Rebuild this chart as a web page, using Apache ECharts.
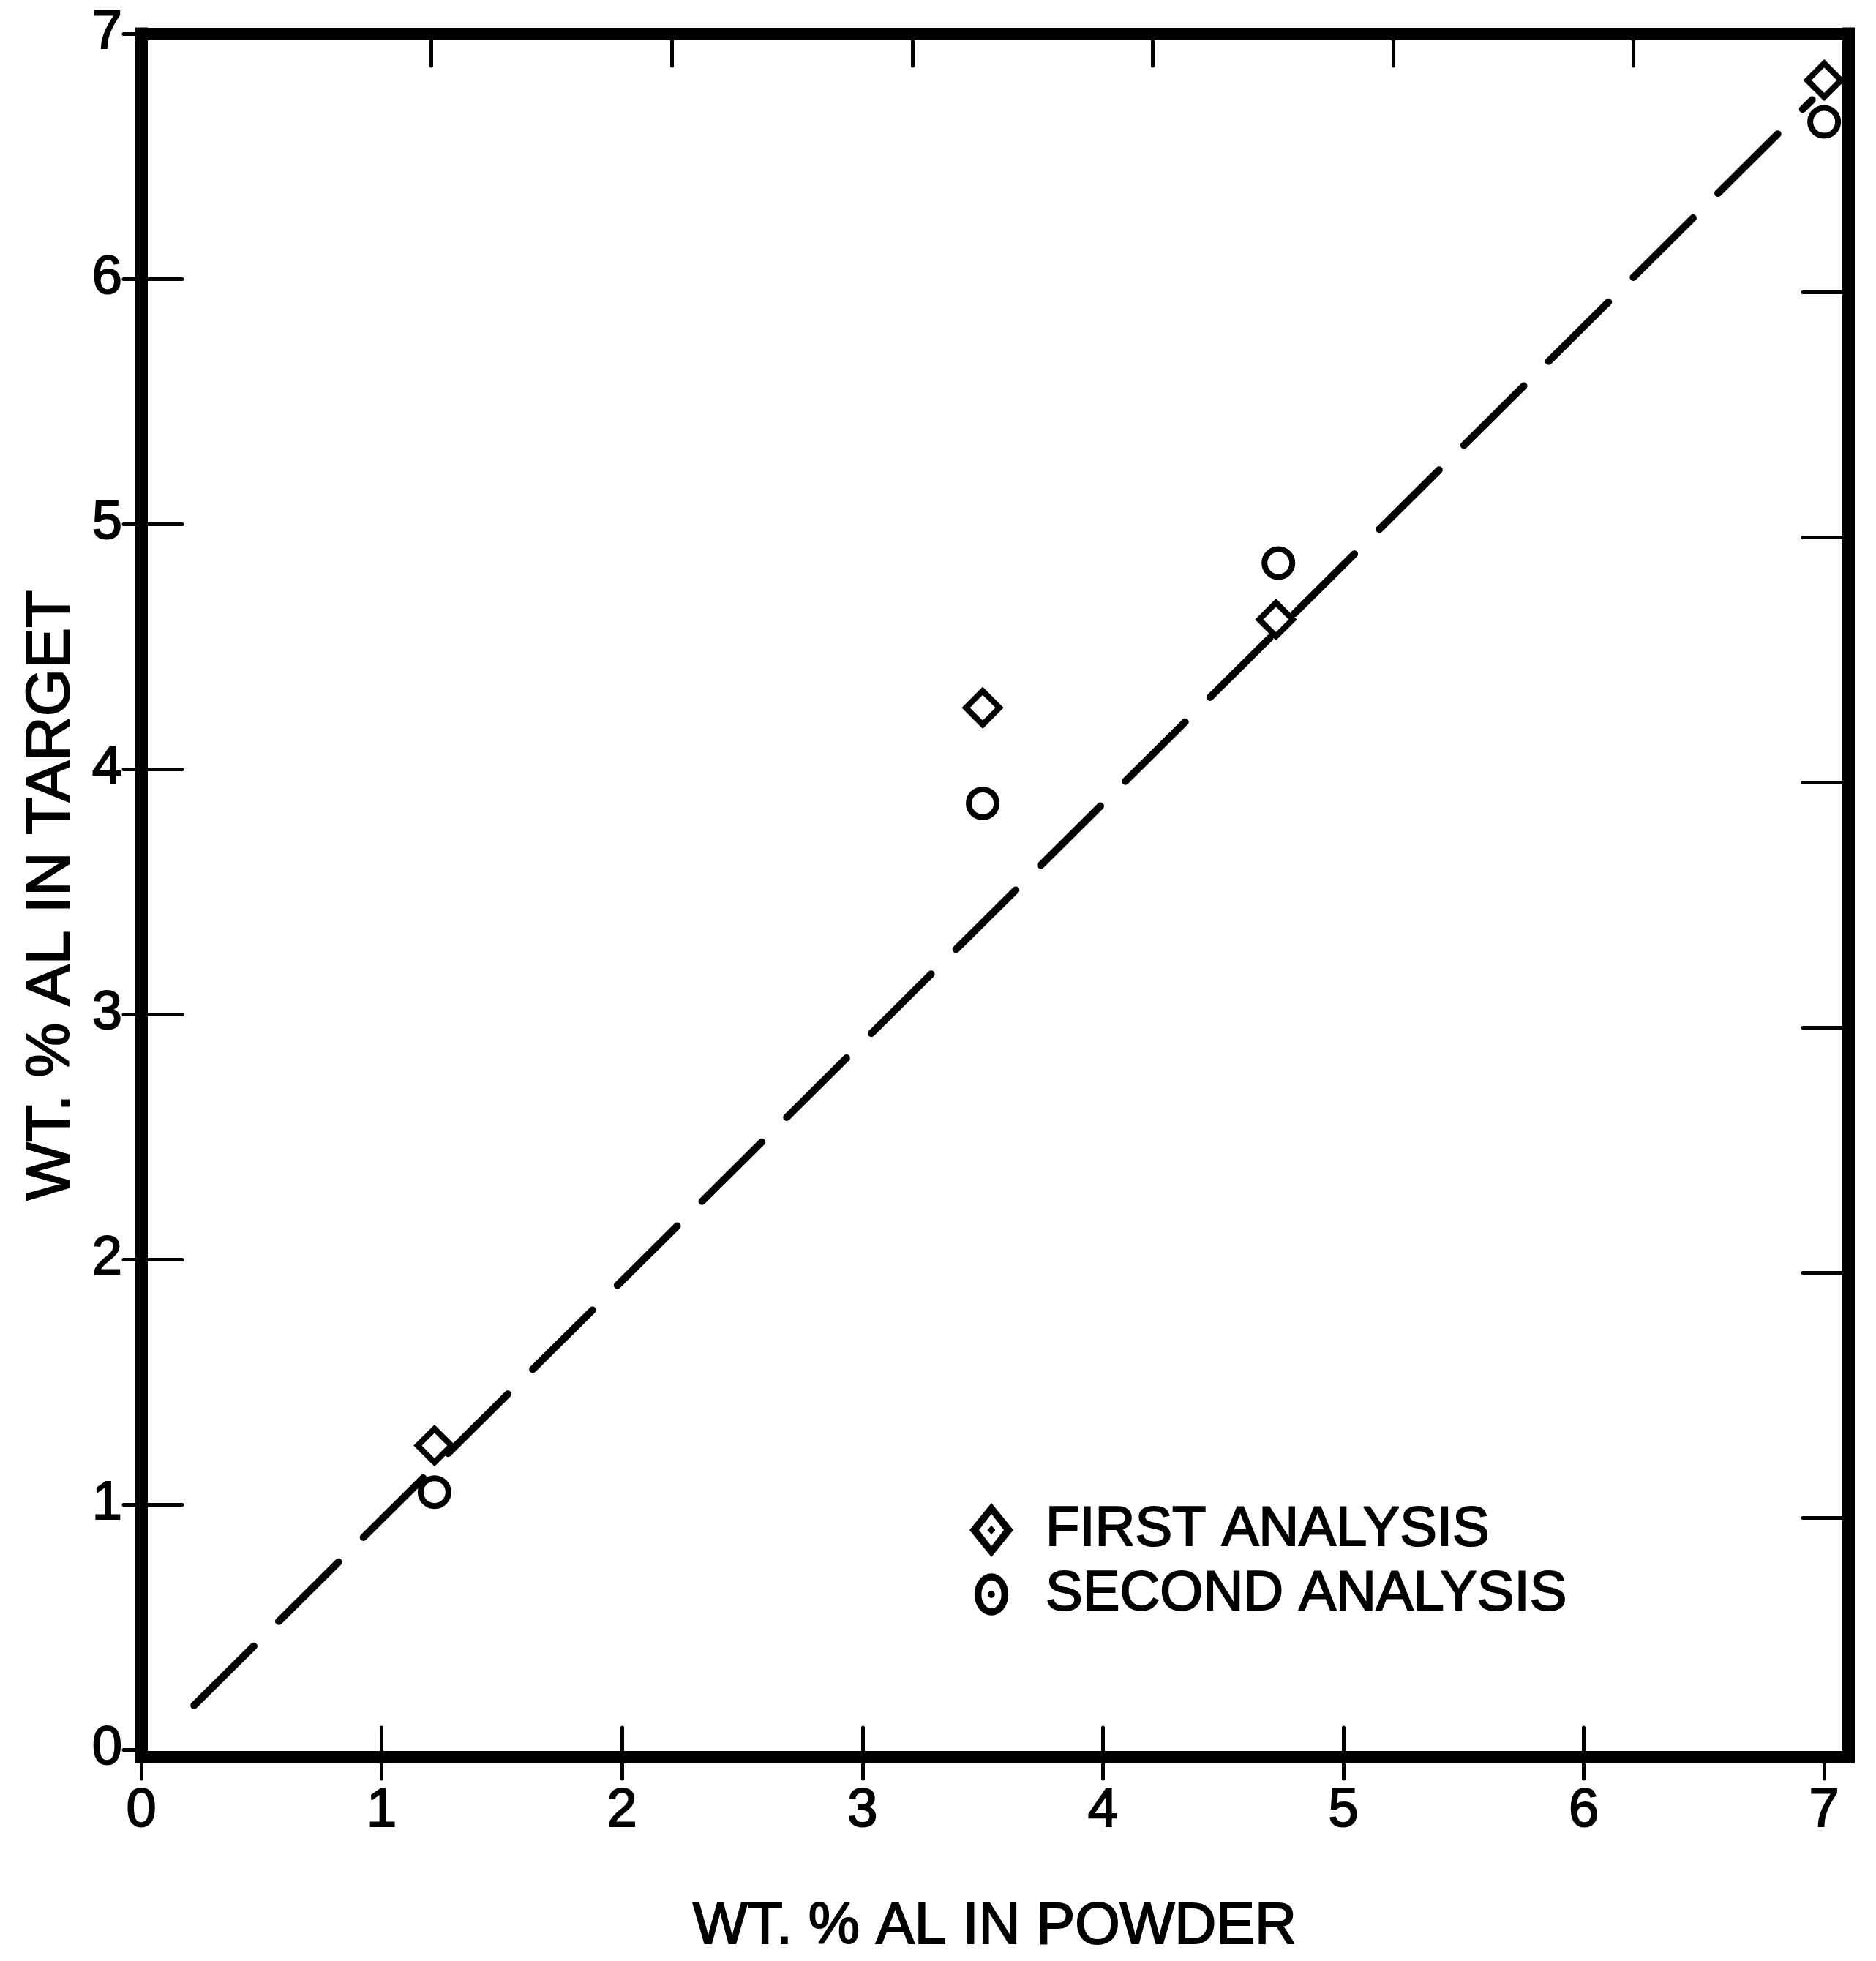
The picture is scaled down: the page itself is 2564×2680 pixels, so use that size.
<!DOCTYPE html>
<html>
<head>
<meta charset="utf-8">
<title>WT. % AL IN TARGET vs WT. % AL IN POWDER</title>
<script src="https://cdn.jsdelivr.net/npm/echarts@6/dist/echarts.min.js"></script>
<style>
  html, body { margin: 0; padding: 0; background: #ffffff; }
  #chart { width: 2564px; height: 2680px; }
</style>
</head>
<body>
<div id="chart"></div>
<script>
// Measured aluminium content: powder (x) vs. sputtered target (y), wt. %
const firstAnalysis = [
  [1.22, 1.24],
  [3.50, 4.25],
  [4.72, 4.61],
  [7.00, 6.81]
];
const secondAnalysis = [
  [1.22, 1.05],
  [3.50, 3.86],
  [4.73, 4.84],
  [7.00, 6.64]
];
// Dashed reference line (end points)
const fitLine = [
  [0.22, 0.18],
  [6.95, 6.73]
];
const tickValues = [0, 1, 2, 3, 4, 5, 6, 7];
const innerTicks = [1, 2, 3, 4, 5, 6];

const seriesNames = ['FIRST ANALYSIS', 'SECOND ANALYSIS'];
const xTitle = 'WT. % AL IN POWDER';
const yTitle = 'WT. % AL IN TARGET';

const FONT = '"Liberation Sans", Arial, sans-serif';
const INK = '#000000';

// legend icons: hollow outline with a centre dot
const diamondIcon = 'path://M0,-27 L22,0 L0,27 L-22,0 Z M0,-16 L-12.5,0 L0,16 L12.5,0 Z ' +
  'M0,-4.5 L4,0 L0,4.5 L-4,0 Z';
// the two hair-thin corner specks only set the icon box so the ring keeps its size
const circleIcon = 'path://M-22,-27 L-21.9,-27 L-22,-26.9 Z M22,27 L21.9,27 L22,26.9 Z ' +
  'M-17,0 A17,21 0 1 1 17,0 A17,21 0 1 1 -17,0 Z M-10,0 A10,14 0 1 0 10,0 A10,14 0 1 0 -10,0 Z ' +
  'M-3.5,0 A3.5,3.5 0 1 1 3.5,0 A3.5,3.5 0 1 1 -3.5,0 Z';

const frameLine = { show: true, onZero: false, lineStyle: { color: INK, width: 17, cap: 'square' } };
const noLine = { show: false, onZero: false };
const tickStyle = { color: INK, width: 5, cap: 'round' };
const inkText = { color: INK, fontFamily: FONT, textBorderColor: INK, textBorderWidth: 2 };

const X_MIN = 0, X_MAX = 7.1;
const Y_MIN = -0.03, Y_MAX = 7;

const chart = echarts.init(document.getElementById('chart'), null, { renderer: 'canvas' });

chart.setOption({
  backgroundColor: '#ffffff',
  animation: false,
  grid: { left: 193, right: 38, top: 46, bottom: 260, containLabel: false },
  legend: {
    data: [
      { name: seriesNames[0], icon: diamondIcon, itemStyle: { color: INK, opacity: 1, borderWidth: 0 } },
      { name: seriesNames[1], icon: circleIcon, itemStyle: { color: INK, opacity: 1, borderWidth: 0 } }
    ],
    orient: 'vertical',
    left: 1320,
    top: 2047,
    itemWidth: 60,
    itemHeight: 74,
    itemGap: 10,
    symbolKeepAspect: false,
    selectedMode: false,
    textStyle: Object.assign({ fontSize: 76, padding: [0, 0, 0, 39] }, inkText)
  },
  xAxis: [
    {
      type: 'value', position: 'bottom', min: X_MIN, max: X_MAX,
      axisLine: frameLine,
      axisTick: { show: true, inside: false, length: 30, customValues: tickValues, lineStyle: tickStyle },
      axisLabel: Object.assign({ show: true, margin: 38, fontSize: 74,
        customValues: tickValues, formatter: v => String(v) }, inkText),
      splitLine: { show: false },
      name: xTitle, nameLocation: 'middle', nameGap: 194,
      nameTextStyle: Object.assign({ fontSize: 79 }, inkText)
    },
    {
      type: 'value', position: 'bottom', min: X_MIN, max: X_MAX,
      axisLine: noLine,
      axisTick: { show: true, inside: true, length: 40, customValues: innerTicks, lineStyle: tickStyle },
      axisLabel: { show: false },
      splitLine: { show: false }
    },
    {
      type: 'value', position: 'top', min: X_MIN - 0.207, max: X_MAX - 0.207,
      axisLine: frameLine,
      axisTick: { show: true, inside: true, length: 44, customValues: innerTicks, lineStyle: tickStyle },
      axisLabel: { show: false },
      splitLine: { show: false }
    }
  ],
  yAxis: [
    {
      type: 'value', position: 'left', min: Y_MIN, max: Y_MAX,
      axisLine: frameLine,
      axisTick: { show: true, inside: false, length: 24, customValues: tickValues, lineStyle: tickStyle },
      axisLabel: Object.assign({ show: true, margin: 26, fontSize: 74,
        customValues: tickValues, formatter: v => String(v) }, inkText),
      splitLine: { show: false },
      name: yTitle, nameLocation: 'middle', nameGap: 80, nameRotate: 90,
      nameTextStyle: Object.assign({ fontSize: 84 }, inkText)
    },
    {
      type: 'value', position: 'left', min: Y_MIN, max: Y_MAX,
      axisLine: noLine,
      axisTick: { show: true, inside: true, length: 56, customValues: innerTicks, lineStyle: tickStyle },
      axisLabel: { show: false },
      splitLine: { show: false }
    },
    {
      type: 'value', position: 'right', min: Y_MIN + 0.055, max: Y_MAX + 0.055,
      axisLine: frameLine,
      axisTick: { show: true, inside: true, length: 62, customValues: innerTicks, lineStyle: tickStyle },
      axisLabel: { show: false },
      splitLine: { show: false }
    }
  ],
  series: [
    {
      name: 'fit',
      type: 'line',
      xAxisIndex: 0, yAxisIndex: 0,
      data: fitLine,
      symbol: 'none',
      silent: true,
      lineStyle: { color: INK, width: 10, type: [115, 48], cap: 'round' },
      z: 2
    },
    {
      name: seriesNames[0],
      type: 'scatter',
      xAxisIndex: 0, yAxisIndex: 0,
      data: firstAnalysis,
      symbol: 'diamond',
      symbolSize: [46, 46],
      itemStyle: { color: '#ffffff', borderColor: INK, borderWidth: 8, opacity: 1 },
      z: 3
    },
    {
      name: seriesNames[1],
      type: 'scatter',
      xAxisIndex: 0, yAxisIndex: 0,
      data: secondAnalysis,
      symbol: 'circle',
      symbolSize: 38,
      itemStyle: { color: '#ffffff', borderColor: INK, borderWidth: 8, opacity: 1 },
      z: 3
    }
  ]
});
</script>
</body>
</html>
